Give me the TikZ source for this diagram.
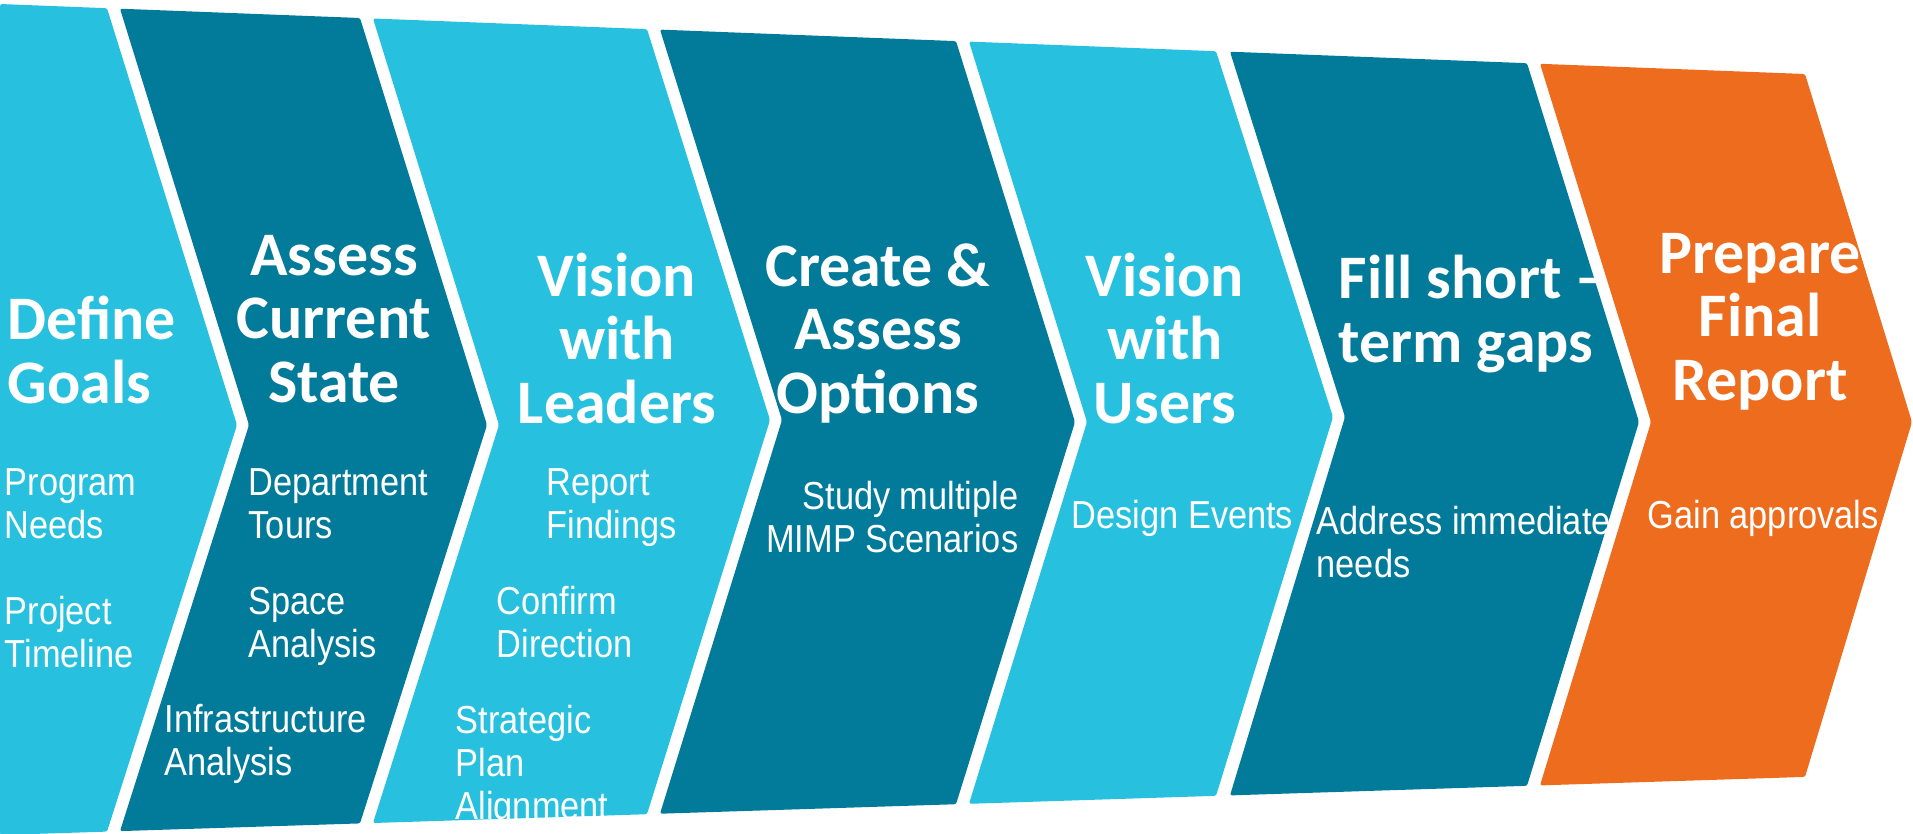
\documentclass[tikz,border=0pt]{standalone}
\usepackage{fontspec}
\newfontfamily\headfont{Carlito}
\newfontfamily\itemfont[FakeStretch=0.88]{Liberation Sans}
\definecolor{lightstep}{HTML}{27C1DF}
\definecolor{darkstep}{HTML}{027B9B}
\definecolor{laststep}{HTML}{EE6C1D}

\begin{document}
\begin{tikzpicture}[x=0.01cm,y=-0.01cm,
  light/.style={fill=lightstep,rounded corners=0.6pt},
  dark/.style={fill=darkstep,rounded corners=0.6pt},
  last/.style={fill=laststep,rounded corners=0.6pt},
  title node/.style={text=white,inner sep=0pt,font=\headfont\bfseries\fontsize{17.6}{18.05}\selectfont},
  item node/.style={text=white,inner sep=0pt,font=\itemfont\fontsize{11.1}{12.2}\selectfont}]

  \useasboundingbox (0,0) rectangle (1913,833);
  \clip (0,0) rectangle (1913,833);
  \fill[white] (0,0) rectangle (1913,833);

  % the seven steps
  \fill[light] (0,4) -- (107,8.2) -- (237,425) -- (107,831.6) -- (0,835) -- cycle;
  \fill[dark] (120,8.7) -- (360,18) -- (487,425) -- (360,823.4) -- (120,831.1) -- (249,425) -- cycle;
  \fill[light] (373,18.5) -- (647,29.1) -- (770,420) -- (647,814.2) -- (373,823) -- (499,425) -- cycle;
  \fill[dark] (660,29.6) -- (956,41.1) -- (1075,422) -- (956,804.2) -- (660,813.7) -- (782,420) -- cycle;
  \fill[light] (969,41.6) -- (1216,51.2) -- (1333,417) -- (1216,795.8) -- (969,803.8) -- (1087,422) -- cycle;
  \fill[dark] (1230,51.7) -- (1527,63.2) -- (1639,422) -- (1527,785.8) -- (1230,795.4) -- (1345,417) -- cycle;
  \fill[last] (1540,63.8) -- (1805,74) -- (1912,422) -- (1805,776.9) -- (1540,785.4) -- (1651,422) -- cycle;

  % headings (placed by the baseline of their last line)
  \node[title node,anchor=base west,align=left] (define) at (7,403) {Define\\Goals};
  \node[title node,anchor=base,align=center] (assess) at (334,402) {Assess\\Current\\State};
  \node[title node,anchor=base,align=center] (leaders) at (617,423) {Vision\\with\\Leaders};
  \node[title node,anchor=base,align=center] (create) at (878,413) {Create \&\\Assess\\Options};
  \node[title node,anchor=base,align=center] (users) at (1165,423) {Vision\\with\\Users};
  \node[title node,anchor=base west,align=left] (fill) at (1338,362) {Fill short –\\term gaps};
  \node[title node,anchor=base,align=center] (prepare) at (1760,400) {Prepare\\Final\\Report};

  % tasks
  \node[item node,anchor=base west,align=left] (program) at (4,538) {Program\\Needs};
  \node[item node,anchor=base west,align=left] (project) at (4,667) {Project\\Timeline};
  \node[item node,anchor=base west,align=left] (tours) at (248,538) {Department\\Tours};
  \node[item node,anchor=base west,align=left] (space) at (248,657) {Space\\Analysis};
  \node[item node,anchor=base west,align=left] (infra) at (164,775) {Infrastructure\\Analysis};
  \node[item node,anchor=base west,align=left] (findings) at (546,538) {Report\\Findings};
  \node[item node,anchor=base west,align=left] (confirm) at (496,657) {Confirm\\Direction};
  \node[item node,anchor=base west,align=left] (strategic) at (455,819) {Strategic\\Plan\\Alignment};
  \node[item node,anchor=base east,align=right] (study) at (1019,552) {Study multiple\\MIMP Scenarios};
  \node[item node,anchor=base west] (events) at (1071,528) {Design Events};
  \node[item node,anchor=base west,align=left] (address) at (1316,577) {Address immediate\\needs};
  \node[item node,anchor=base west] (gain) at (1647,528) {Gain approvals};
\end{tikzpicture}
\end{document}
